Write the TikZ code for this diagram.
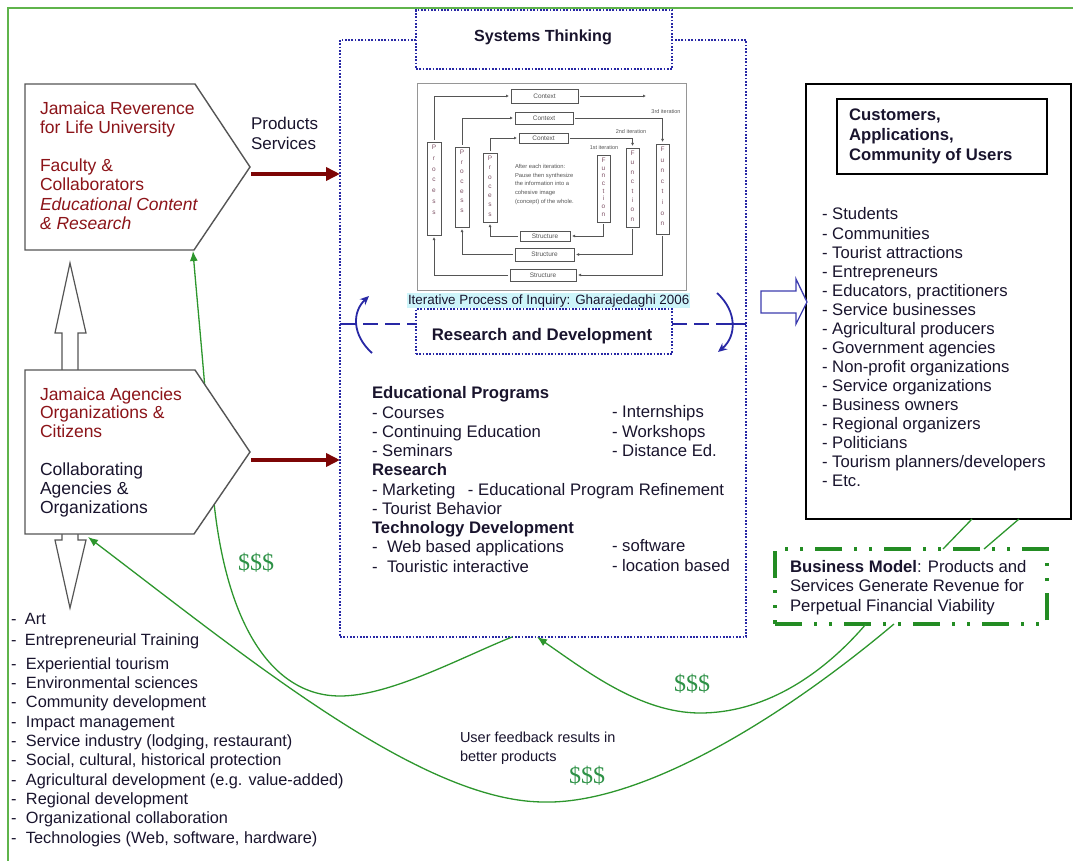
\documentclass[tikz,border=0pt]{standalone}
\usepackage{fontspec}
\setmainfont{Liberation Sans}
\newfontfamily\moneyfont{Liberation Serif}
\usetikzlibrary{arrows.meta}

\definecolor{framegreen}{RGB}{95,180,75}
\definecolor{flowgreen}{RGB}{45,150,45}
\definecolor{bmgreen}{RGB}{35,140,35}
\definecolor{dollargreen}{RGB}{45,145,70}
\definecolor{dotblue}{RGB}{40,40,165}
\definecolor{arrowblue}{RGB}{60,60,175}
\definecolor{maroonline}{RGB}{125,5,5}
\definecolor{boxred}{RGB}{140,20,25}
\definecolor{ink}{RGB}{25,20,45}
\definecolor{edgegray}{RGB}{85,85,85}
\definecolor{figgray}{RGB}{150,150,150}
\definecolor{figink}{RGB}{85,85,85}
\definecolor{figletter}{RGB}{125,80,100}
\definecolor{capcyan}{RGB}{205,245,250}

\newcommand\fmain{\fontsize{16.7}{19.25}\selectfont}

\begin{document}
\begin{tikzpicture}[x=1pt,y=-1pt,
  every node/.style={inner sep=0pt,outer sep=0pt,text=ink},
  pent/.style={draw=edgegray,fill=white,line width=1.4pt,line join=miter},
  hollowarrow/.style={draw=edgegray,fill=white,line width=1.2pt,line join=miter},
  dotframe/.style={draw=dotblue,line width=2.1pt,dash pattern=on 1.7pt off 1.6pt},
  rdline/.style={draw=dotblue,line width=1.8pt},
  rddash/.style={rdline,dash pattern=on 15pt off 7pt},
  rdarrow/.style={rdline,-{Stealth[length=9pt,width=8pt]}},
  bigred/.style={draw=maroonline,line width=4pt,-{Triangle[length=14pt,width=13pt]}},
  flow/.style={draw=flowgreen,line width=1.3pt},
  flowarrow/.style={flow,-{Latex[length=10pt,width=8pt]}},
  bmframe/.style={draw=bmgreen,line width=3.5pt,dash pattern=on 27pt off 12pt on 3pt off 12pt on 3pt off 12pt},
  figbox/.style={draw=figink,line width=0.7pt,fill=white,text=figink,font=\fontsize{6.5}{8}\selectfont},
  figarrow/.style={draw=figink,line width=0.7pt,shorten <=2pt,shorten >=2pt,-{Latex[length=3pt,width=3pt]}},
  figtext/.style={text=figink,font=\fontsize{5.5}{8}\selectfont},
  letterstack/.style={text=figletter,font=\fontsize{6.5}{#1}\selectfont,align=center,anchor=north},
  dollar/.style={text=dollargreen,font=\moneyfont\fontsize{24}{24}\selectfont},
]
\useasboundingbox (0,0) rectangle (1073,861);

% outer green frame
\draw[framegreen,line width=1.5pt] (8,875) -- (8,8) -- (1085,8);

% main containers
\node[dotframe,minimum width=406pt,minimum height=597pt,anchor=north west] (st) at (340,40) {};
\node[draw=black,line width=1.3pt,minimum width=265pt,minimum height=435pt,anchor=north west] (cust) at (806,84) {};
\node[bmframe,fill=white,minimum width=272pt,minimum height=75pt,anchor=north west] (bm) at (775,549) {};

% anchor points on the left boxes
\coordinate (b1foot) at (193,251);
\coordinate (b2foot) at (88,537);
\coordinate (b1out) at (251,174);
\coordinate (b2out) at (251,460);

% revenue / feedback loops
\draw[flowarrow] ([xshift=91pt]bm.south west) .. controls (818,680) and (760,713) .. (700,713)
  .. controls (640,713) and (585,670) .. ([xshift=197pt]st.south west);
\draw[flowarrow] ([xshift=119pt]bm.south west) .. controls (780,720) and (640,805) .. (542,802)
  .. controls (420,800) and (250,660) .. (b2foot);
\draw[flowarrow] ([xshift=172pt]st.south west) .. controls (460,658) and (390,696) .. (340,696)
  .. controls (270,696) and (222,620) .. (212,480) .. controls (205,380) and (197,300) .. (b1foot);

% cust -> business model links
\draw[flow] ([xshift=166pt]cust.south west) -- ([xshift=168pt]bm.north west);
\draw[flow] ([xshift=213pt]cust.south west) -- ([xshift=209pt]bm.north west);

% hollow arrows between the left boxes
\draw[hollowarrow] (62,373) -- (62,333) -- (55,333) -- (70,263) -- (86,333) -- (78,333) -- (78,373) -- cycle;
\draw[hollowarrow] (62,531) -- (62,540) -- (55,540) -- (70,608) -- (86,540) -- (78,540) -- (78,531) -- cycle;

% left pentagons
\draw[pent] (25,84) -- (195,84) -- (250,167) -- (194,250) -- (25,250) -- cycle;
\draw[pent] (25,370) -- (195,370) -- (250,452) -- (194,534) -- (25,534) -- cycle;

\node[anchor=north west,align=left,text=boxred,font=\fontsize{17.5}{19.2}\selectfont] (b1t) at (40,100.6)
  {\strut Jamaica Reverence\\for Life University\\\mbox{}\\Faculty \&\\Collaborators\\\textit{Educational Content}\\\textit{\& Research}};
\node[anchor=north west,align=left,text=boxred,font=\fontsize{17.5}{18.9}\selectfont] (b2t) at (40,386.8)
  {\strut Jamaica Agencies\\Organizations \&\\Citizens\\\mbox{}\\\textcolor{ink}{Collaborating}\\\textcolor{ink}{Agencies \&}\\\textcolor{ink}{Organizations}};

% products flow
\node[anchor=north west,align=left,font=\fontsize{17}{20}\selectfont] (ps) at (251,116) {\strut Products\\Services};
\draw[bigred] (b1out) -- (b1out -| st.west);
\draw[bigred] (b2out) -- (b2out -| st.west);

% systems thinking header and R&D band
\node[dotframe,fill=white,minimum width=256pt,minimum height=59pt,anchor=north west] (sthead) at (416,10) {};
\node[anchor=base,font=\bfseries\fontsize{16.1}{19}\selectfont] (sttitle) at (543,42) {Systems Thinking};
\node[dotframe,fill=white,minimum width=256pt,minimum height=45pt,anchor=north west] (rd) at (416,309) {};
\node[anchor=base,font=\bfseries\fontsize{16.8}{19}\selectfont] (rdtitle) at (542,340) {Research and Development};

\coordinate (rdy) at (0,324);
\coordinate (larc) at (356,324);
\coordinate (rarc) at (731,324);
\coordinate (larcbot) at (372,353);
\coordinate (larctop) at (369,296);
\coordinate (rarctop) at (717,293);
\coordinate (rarcbot) at (718,352);
\draw[rdline] (st.west |- rdy) -- (larc);
\draw[rddash,dash phase=15pt] (larc) -- (rd.west |- rdy);
\draw[rddash] (rd.east |- rdy) -- (rarc);
\draw[rdline] (rarc) -- (st.east |- rdy);
\draw[rdarrow] (larcbot) .. controls (352,335) and (352,312) .. (larctop);
\draw[rdarrow] (rarctop) .. controls (737,311) and (737,336) .. (rarcbot);

% iterative inquiry figure
\node[draw=figgray,line width=0.8pt,minimum width=269pt,minimum height=207pt,anchor=north west] (fig) at (417,83) {};
\node[figbox,minimum width=67pt,minimum height=14pt] (ctx3) at (544.5,96) {Context};
\node[figbox,minimum width=58pt,minimum height=12pt] (ctx2) at (544,118) {Context};
\node[figbox,minimum width=49pt,minimum height=10pt] (ctx1) at (543.5,138) {Context};
\node[figbox,minimum width=50pt,minimum height=10pt] (str1) at (545,236) {Structure};
\node[figbox,minimum width=59pt,minimum height=13pt] (str2) at (544.5,254.5) {Structure};
\node[figbox,minimum width=66pt,minimum height=12pt] (str3) at (543,275) {Structure};
\node[figbox,minimum width=14pt,minimum height=93pt] (prc3) at (434,188.5) {};
\node[figbox,minimum width=14pt,minimum height=80pt] (prc2) at (462,187) {};
\node[figbox,minimum width=14pt,minimum height=69pt] (prc1) at (490,187.5) {};
\node[figbox,minimum width=13pt,minimum height=67pt] (fun1) at (603.5,188.5) {};
\node[figbox,minimum width=13pt,minimum height=79pt] (fun2) at (632.5,187.5) {};
\node[figbox,minimum width=13pt,minimum height=90pt] (fun3) at (662.5,189) {};
\node[letterstack=10.8] (prc3l) at ([yshift=-3pt]prc3.north) {P\\r\\o\\c\\e\\s\\s};
\node[letterstack=9.7] (prc2l) at ([yshift=-3pt]prc2.north) {P\\r\\o\\c\\e\\s\\s};
\node[letterstack=9.3] (prc1l) at ([yshift=-3pt]prc1.north) {P\\r\\o\\c\\e\\s\\s};
\node[letterstack=7.7] (fun1l) at ([yshift=-3pt]fun1.north) {F\\u\\n\\c\\t\\i\\o\\n};
\node[letterstack=9.4] (fun2l) at ([yshift=-3pt]fun2.north) {F\\u\\n\\c\\t\\i\\o\\n};
\node[letterstack=10.6] (fun3l) at ([yshift=-3pt]fun3.north) {F\\u\\n\\c\\t\\i\\o\\n};
\coordinate (ctxout) at (648,96);
\draw[figarrow] (prc3.north) |- (ctx3.west);
\draw[figarrow] (ctx3.east) -- (ctxout);
\draw[figarrow] (prc2.north) |- (ctx2.west);
\draw[figarrow] (ctx2.east) -| (fun3.north);
\draw[figarrow] (prc1.north) |- (ctx1.west);
\draw[figarrow] (ctx1.east) -| (fun2.north);
\draw[figarrow] (fun1.south) |- (str1.east);
\draw[figarrow] (str1.west) -| (prc1.south);
\draw[figarrow] (fun2.south) |- (str2.east);
\draw[figarrow] (str2.west) -| (prc2.south);
\draw[figarrow] (fun3.south) |- (str3.east);
\draw[figarrow] (str3.west) -| (prc3.south);
\node[figtext] (it1) at (604,148) {1st iteration};
\node[figtext] (it2) at (631,132) {2nd iteration};
\node[figtext] (it3) at (666,112) {3rd iteration};
\node[figtext,anchor=north west,align=left,font=\fontsize{5.8}{8.8}\selectfont] (figtxt) at (515,164)
  {After each iteration:\\Pause then synthesize\\the information into a\\cohesive image\\(concept) of the whole.};
\node[fill=capcyan,anchor=base west,text height=11pt,text depth=4pt,inner xsep=1pt,font=\fontsize{13.4}{16}\selectfont] (cap) at (407,304)
  {Iterative Process of Inquiry: Gharajedaghi 2006};

% programme listing
\node[anchor=north west,align=left,font=\fmain] (edu) at (372,385.5)
  {\strut\textbf{Educational Programs}\\- Courses\\- Continuing Education\\- Seminars\\\textbf{Research}\\
   \makebox[96pt][l]{- Marketing}- Educational Program Refinement\\- Tourist Behavior\\\textbf{Technology Development}\\
   \makebox[15pt][l]{-}Web based applications\\\makebox[15pt][l]{-}Touristic interactive};
\node[anchor=north west,align=left,font=\fmain] (eduR) at (612,404.5) {\strut - Internships\\- Workshops\\- Distance Ed.};
\node[anchor=north west,align=left,font=\fmain] (techR) at (612,538.5) {\strut - software\\- location based};

% users
\draw[draw=arrowblue,line width=1.3pt,fill=white,line join=miter]
  (761,291) -- (796,291) -- (796,279) -- (807,302) -- (796,324) -- (796,313) -- (761,313) -- cycle;
\node[draw=black,line width=1.3pt,minimum width=210pt,minimum height=75pt,anchor=north west] (custhead) at (837,99) {};
\node[anchor=north west,align=left,font=\bfseries\fontsize{16.7}{20}\selectfont] (custtitle) at (849,107)
  {\strut Customers,\\Applications,\\Community of Users};
\node[anchor=north west,align=left,font=\fontsize{16.7}{19.07}\selectfont] (users) at (822,206.6)
  {\strut - Students\\- Communities\\- Tourist attractions\\- Entrepreneurs\\- Educators, practitioners\\
   - Service businesses\\- Agricultural producers\\- Government agencies\\- Non-profit organizations\\
   - Service organizations\\- Business owners\\- Regional organizers\\- Politicians\\
   - Tourism planners/developers\\- Etc.};

% business model
\node[anchor=north west,align=left,font=\fontsize{16.7}{19.5}\selectfont] (bmtext) at (790,558.4)
  {\strut\textbf{Business Model}: Products and\\Services Generate Revenue for\\Perpetual Financial Viability};

% loop labels
\node[dollar] (d1) at (256,563) {\$\$\$};
\node[dollar] (d2) at (692,684) {\$\$\$};
\node[dollar] (d3) at (587,776) {\$\$\$};
\node[anchor=north west,align=left,font=\fontsize{14.5}{19}\selectfont] (fb) at (460,728.7)
  {\strut User feedback results in\\better products};

% community areas
\node[anchor=north west,align=left,font=\fontsize{16.3}{19.33}\selectfont] (la) at (11,610.5) {\strut\makebox[14pt][l]{-}Art};
\node[anchor=north west,align=left,font=\fontsize{16.3}{19.33}\selectfont] (lb) at (11,631.5) {\strut\makebox[14pt][l]{-}Entrepreneurial Training};
\node[anchor=north west,align=left,font=\fontsize{16.3}{19.33}\selectfont] (lc) at (11,655.5)
  {\strut\makebox[15pt][l]{-}Experiential tourism\\\makebox[15pt][l]{-}Environmental sciences\\
   \makebox[15pt][l]{-}Community development\\\makebox[15pt][l]{-}Impact management\\
   \makebox[15pt][l]{-}Service industry (lodging, restaurant)\\\makebox[15pt][l]{-}Social, cultural, historical protection\\
   \makebox[15pt][l]{-}Agricultural development (e.g. value-added)\\\makebox[15pt][l]{-}Regional development\\
   \makebox[15pt][l]{-}Organizational collaboration\\\makebox[15pt][l]{-}Technologies (Web, software, hardware)};
\end{tikzpicture}
\end{document}
